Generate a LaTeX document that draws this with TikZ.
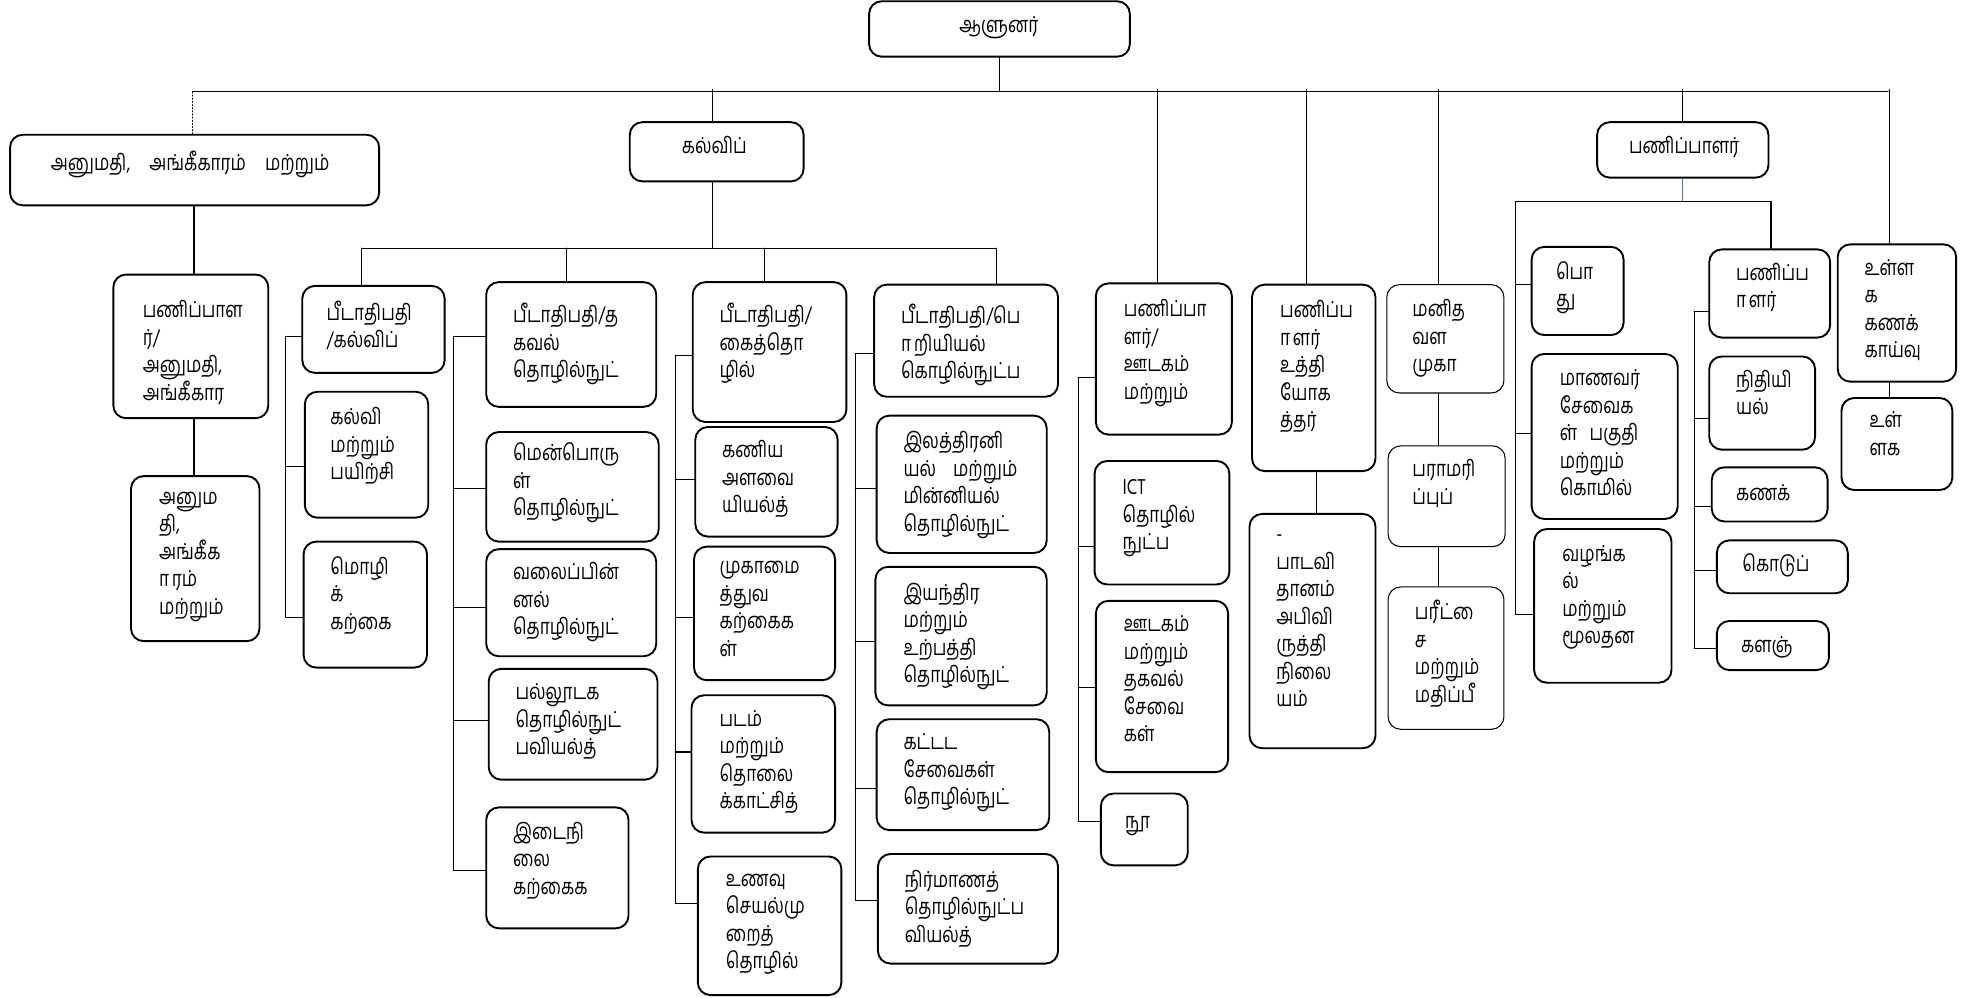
\documentclass[tikz,border=0pt]{standalone}
\usepackage{fontspec}
\setmainfont{Hind Madurai}[Script=Tamil,FakeStretch=0.78]
\usepackage{tikz}
\usetikzlibrary{fit}
\definecolor{linkblue}{RGB}{68,114,196}
\newcommand{\lonesign}[1]{\XeTeXglyph\XeTeXcharglyph"#1\relax}

\begin{document}
\begin{tikzpicture}[line cap=round,line join=round,x=0.6pt,y=-0.6pt,
  box/.style={draw,line width=0.9pt,rounded corners=6pt,inner sep=0pt},
  thinbox/.style={box,line width=0.5pt},
  wire/.style={line width=0.5pt},
  ttl/.style={anchor=base west,inner sep=0pt,font=\fontsize{10.5}{13.1}\selectfont},
  txt/.style={anchor=north west,yshift=10pt,align=left,inner sep=0pt,
    font=\fontsize{10.5}{13.1}\selectfont,execute at begin node={\rule{0pt}{10pt}}}]
\useasboundingbox (0,0) rectangle (1568,792);

\node[box,fit={(690,1) (897,45)}] (gov) {};
\node[ttl,anchor=base] (govt) at (793,26) {ஆளுனர்};
\node[box,fit={(8,107) (301,163)}] (perm) {};
\node[ttl] (permt) at (40,135) {அனுமதி,\hspace{7pt} அங்கீகாரம்\hspace{7pt} மற்றும்};
\node[box,fit={(500,97) (638,144)}] (edu) {};
\node[ttl] (edut) at (541,122) {கல்விப்};
\node[box,fit={(1268,97) (1404,141)}] (dir) {};
\node[ttl] (dirt) at (1293,122) {பணிப்பாளர்};

\node[box,fit={(90,218) (213,332)}] (perm1) {};
\node[txt] (perm1t) at (113,255) {பணிப்பாள\\ர்/\\அனுமதி,\\அங்கீகார};
\node[box,fit={(104,378) (206,509)}] (perm2) {};
\node[txt] (perm2t) at (126,407) {அனும\\தி,\\அங்கீக\\\lonesign{0BBE}ரம்\\மற்றும்};

\node[box,fit={(240,227) (353,296)}] (fac1) {};
\node[txt] (fac1t) at (259,255) {பீடாதிபதி\\/கல்விப்};
\node[box,fit={(242,311) (340,411)}] (edu1) {};
\node[txt] (edu1t) at (262,340) {கல்வி\\மற்றும்\\பயிற்சி};
\node[box,fit={(241,430) (339,530)}] (lang1) {};
\node[txt] (lang1t) at (262,458) {மொழி\\க்\\கற்கை};

\node[box,fit={(386,224) (521,323)}] (fac2) {};
\node[txt] (fac2t) at (407,257) {பீடாதிபதி/த\\கவல்\\தொழில்நுட்};
\node[box,fit={(386,343) (523,430)}] (soft) {};
\node[txt] (softt) at (407,368) {மென்பொரு\\ள்\\தொழில்நுட்};
\node[box,fit={(386,436) (521,521)}] (net) {};
\node[txt] (nett) at (407,463) {வலைப்பின்\\னல்\\தொழில்நுட்};
\node[box,fit={(388,531) (522,619)}] (mmedia) {};
\node[txt] (mmediat) at (409,559) {பல்லூடக\\தொழில்நுட்\\பவியல்த்};
\node[box,fit={(386,641) (499,737)}] (inter) {};
\node[txt] (intert) at (407,669) {இடைநி\\லை\\கற்கைக};

\node[box,fit={(550,224) (672,335)}] (fac3) {};
\node[txt] (fac3t) at (571,257) {பீடாதிபதி/\\கைத்தொ\\ழில்};
\node[box,fit={(552,339) (665,426)}] (quant) {};
\node[txt] (quantt) at (573,366) {கணிய\\அளவை\\யியல்த்};
\node[box,fit={(551,434) (663,540)}] (mgmt) {};
\node[txt] (mgmtt) at (571,462) {முகாமை\\த்துவ\\கற்கைக\\ள்};
\node[box,fit={(549,552) (663,661)}] (film) {};
\node[txt] (filmt) at (571,580) {படம்\\மற்றும்\\தொலை\\க்காட்சித்};
\node[box,fit={(554,680) (668,790)}] (food) {};
\node[txt] (foodt) at (576,710) {உணவு\\செயல்மு\\றைத்\\தொழில்};

\node[box,fit={(694,226) (840,315)}] (fac4) {};
\node[txt] (fac4t) at (715,258) {பீடாதிபதி/பெ\\\lonesign{0BBE}றியியல்\\கொழில்நுட்ப};
\node[box,fit={(696,330) (831,439)}] (elec) {};
\node[txt] (elect) at (717,359) {இலத்திரனி\\யல்\hspace{6pt} மற்றும்\\மின்னியல்\\தொழில்நுட்};
\node[box,fit={(695,450) (831,560)}] (mech) {};
\node[txt] (mecht) at (717,479) {இயந்திர\\மற்றும்\\உற்பத்தி\\தொழில்நுட்};
\node[box,fit={(696,571) (833,659)}] (bldg) {};
\node[txt] (bldgt) at (717,599) {கட்டட\\சேவைகள்\\தொழில்நுட்};
\node[box,fit={(697,678) (840,765)}] (constr) {};
\node[txt] (constrt) at (718,707) {நிர்மாணத்\\தொழில்நுட்ப\\வியல்த்};

\node[box,fit={(870,225) (978,345)}] (media) {};
\node[txt] (mediat) at (892,254) {பணிப்பா\\ளர்/\\ஊடகம்\\மற்றும்};
\node[box,fit={(869,366) (976,464)}] (ict) {};
\node[txt] (ictt) at (891,397) {ICT\\தொழில்\\நுட்ப};
\node[box,fit={(870,477) (975,613)}] (mediainfo) {};
\node[txt] (mediainfot) at (892,505) {ஊடகம்\\மற்றும்\\தகவல்\\சேவை\\கள்};
\node[box,fit={(874,630) (943,687)}] (lib) {};
\node[ttl] (libt) at (893,658) {நூ};

\node[box,fit={(994,226) (1092,374)}] (staff) {};
\node[txt] (stafft) at (1016,255) {பணிப்ப\\\lonesign{0BBE}ளர்\\உத்தி\\யோக\\த்தர்};
\node[box,fit={(992,408) (1092,594)}] (curric) {};
\node[txt] (currict) at (1013,441) {-\\பாடவி\\தானம்\\அபிவி\\ருத்தி\\நிலை\\யம்};

\node[thinbox,fit={(1101,226) (1194,312)}] (hr) {};
\node[txt] (hrt) at (1121,254) {மனித\\வள\\முகா};
\node[thinbox,fit={(1102,354) (1195,434)}] (maint) {};
\node[txt] (maintt) at (1121,381) {பராமரி\\ப்புப்};
\node[thinbox,fit={(1102,466) (1194,579)}] (exam) {};
\node[txt] (examt) at (1123,493) {பரீட்\lonesign{0BC8}\\ச\\மற்றும்\\மதிப்பீ};

\node[box,fit={(1216,196) (1289,266)}] (gen) {};
\node[txt] (gent) at (1235,224) {பொ\\து};
\node[box,fit={(1216,281) (1332,412)}] (stud) {};
\node[txt] (studt) at (1238,310) {மாணவர்\\சேவைக\\ள்\hspace{4pt} பகுதி\\மற்றும்\\கொமில்};
\node[box,fit={(1218,420) (1327,542)}] (supply) {};
\node[txt] (supplyt) at (1240,449) {வழங்க\\ல்\\மற்றும்\\மூலதன};

\node[box,fit={(1357,198) (1453,268)}] (fin) {};
\node[txt] (fint) at (1378,225) {பணிப்ப\\\lonesign{0BBE}ளர்};
\node[box,fit={(1357,283) (1441,357)}] (finance) {};
\node[txt] (financet) at (1378,310) {நிதியி\\யல்};
\node[box,fit={(1359,371) (1451,414)}] (acct) {};
\node[ttl] (acctt) at (1378,397) {கணக்};
\node[box,fit={(1363,429) (1467,471)}] (pay) {};
\node[ttl] (payt) at (1383,454) {கொடுப்};
\node[box,fit={(1363,493) (1452,532)}] (store) {};
\node[ttl] (storet) at (1382,518) {களஞ்};

\node[box,fit={(1459,194) (1553,303)}] (audit) {};
\node[txt] (auditt) at (1480,222) {உள்ள\\க\\கணக்\\காய்வு};
\node[box,fit={(1462,316) (1550,389)}] (audit2) {};
\node[txt] (audit2t) at (1484,343) {உள்\\ளக};

\coordinate (busL) at (153,73);
\coordinate (busR) at (1499,73);
\coordinate (xA) at (154,0);
\coordinate (xB) at (566,0);
\coordinate (xD) at (1045,0);
\coordinate (xE) at (1142,0);
\coordinate (xF) at (1336,0);
\coordinate (xG) at (1500,0);
\coordinate (ebus) at (0,197);
\coordinate (fbus) at (0,160);

\draw[wire] (gov.south) -- (gov.south |- busL);
\draw[wire] (busL) -- (busR);
\draw[wire,densely dotted] (busL) -- (busL |- perm.north);
\foreach \x/\n in {566/edu,919/media,1037/staff,1142/hr,1336/dir,1500/audit}
  \draw[wire] (\x,71) -- (\n.north -| \x,71);
\draw[wire] (xA |- perm.south) -- (xA |- perm1.north);
\draw[wire] (xA |- perm1.south) -- (xA |- perm2.north);

\draw[wire] (xB |- edu.south) -- (xB |- ebus);
\draw[wire] (287,197) -- (791,197);
\foreach \x/\n in {287/fac1,450/fac2,607/fac3,791/fac4}
  \draw[wire] (\x,197) -- (\n.north -| \x,197);

\draw[wire] (227,267) -- (227,490);
\foreach \y/\n in {267/fac1,370/edu1,490/lang1}
  \draw[wire] (227,\y) -- (\n.west |- 227,\y);
\draw[wire] (360,267) -- (360,691);
\foreach \y/\n in {267/fac2,388/soft,482/net,572/mmedia,691/inter}
  \draw[wire] (360,\y) -- (\n.west |- 360,\y);
\draw[wire] (536,282) -- (536,717);
\foreach \y/\n in {282/fac3,381/quant,490/mgmt,597/film,717/food}
  \draw[wire] (536,\y) -- (\n.west |- 536,\y);
\draw[wire] (679,281) -- (679,715);
\foreach \y/\n in {281/fac4,388/elec,509/mech,626/bldg,715/constr}
  \draw[wire] (679,\y) -- (\n.west |- 679,\y);

\draw[wire] (856,300) -- (856,652);
\foreach \y/\n in {300/media,434/ict,546/mediainfo,652/lib}
  \draw[wire] (856,\y) -- (\n.west |- 856,\y);

\draw[wire] (xD |- staff.south) -- (xD |- curric.north);
\draw[wire] (xE |- hr.south) -- (xE |- maint.north);
\draw[wire] (xE |- maint.south) -- (xE |- exam.north);

\draw[wire,linkblue] (xF |- dir.south) -- (xF |- fbus);
\draw[wire] (1203,160) -- (1406,160);
\draw[wire] (1203,160) -- (1203,488);
\foreach \y/\n in {226/gen,344/stud,488/supply}
  \draw[wire] (1203,\y) -- (\n.west |- 1203,\y);
\draw[wire] (1406,160) -- (fin.north -| 1406,160);
\draw[wire] (1345,247) -- (1345,515);
\foreach \y/\n in {247/fin,332/finance,402/acct,453/pay,515/store}
  \draw[wire] (1345,\y) -- (\n.west |- 1345,\y);

\draw[wire] (xG |- audit.south) -- (xG |- audit2.north);
\end{tikzpicture}
\end{document}
